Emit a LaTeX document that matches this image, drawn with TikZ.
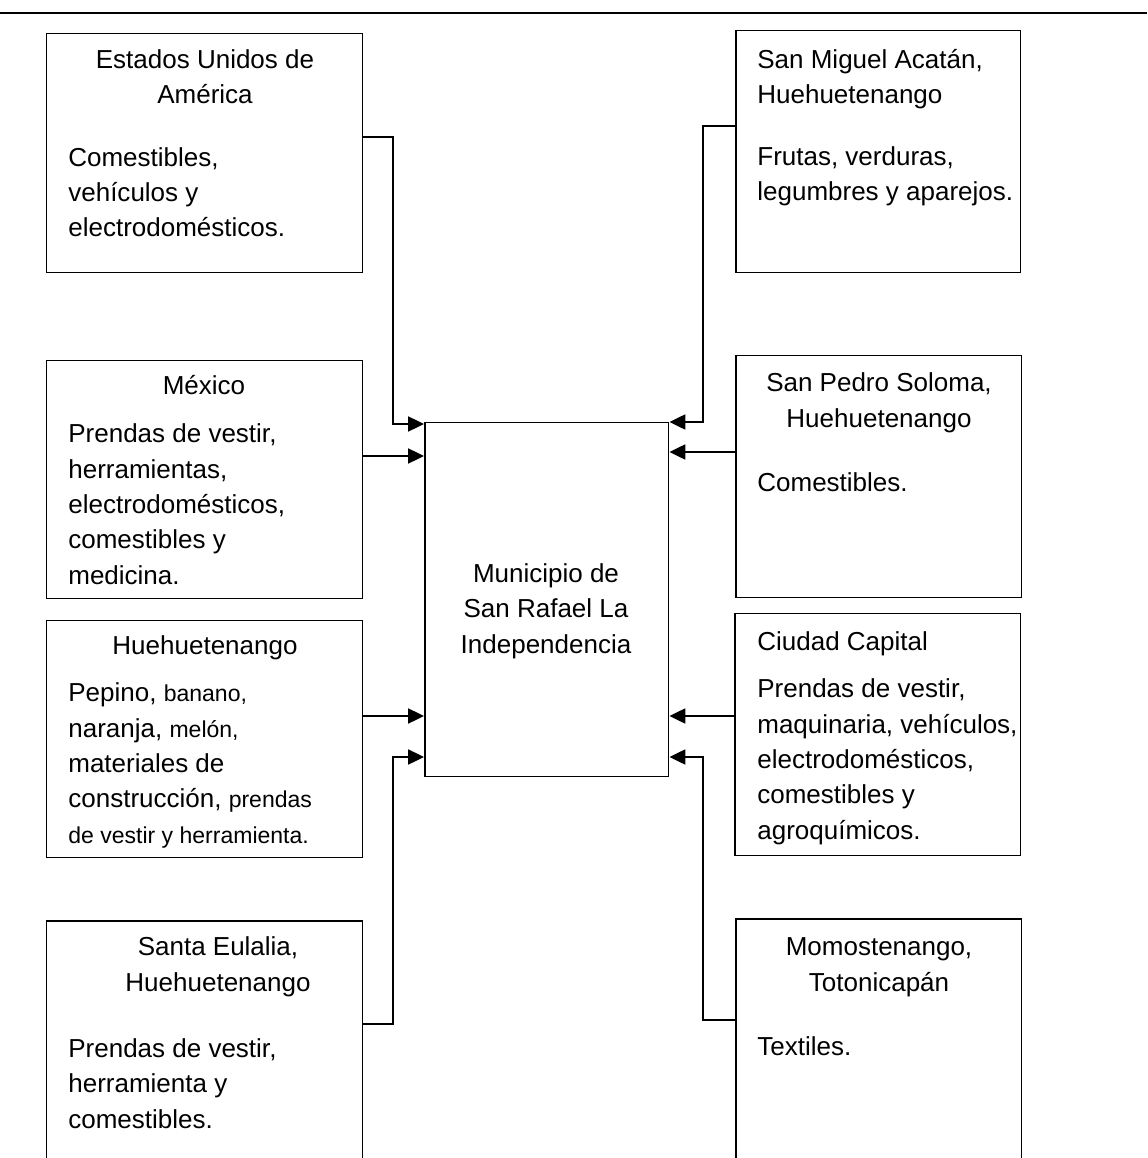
\documentclass[tikz,border=0pt]{standalone}
\usepackage{fontspec}
\setmainfont{Liberation Sans}
\usetikzlibrary{arrows.meta}
\tikzset{
  box/.style={draw, line width=0.85pt, anchor=north west, inner sep=0pt},
  txt/.style={inner sep=0pt, font=\fontsize{14.8}{20.1}\selectfont},
  conn/.style={line width=1.1pt, -{Triangle[length=9pt,width=8.5pt]}}
}
\newcommand{\sm}[1]{{\fontsize{13.1}{20.1}\selectfont #1}}
\begin{document}
\begin{tikzpicture}[x=0.02cm, y=-0.02cm]
                \path[use as bounding box, clip] (0,0) rectangle (1147,1158);
                % Top rule
                \draw[line width=1.4pt] (0,13) -- (1147,13);
                % Centre box
                \node[box, minimum width=4.88cm, minimum height=7.08cm] (mun) at (424,422) {};
                \node[txt, align=center, anchor=base] (munt) at (546,653) {Municipio de\\San Rafael La\\Independencia};
                % Left boxes
                \node[box, minimum width=6.32cm, minimum height=4.78cm] (eu) at (46,33) {};
                \node[box, minimum width=6.32cm, minimum height=4.76cm] (mex) at (46,360) {};
                \node[box, minimum width=6.32cm, minimum height=4.74cm] (hue) at (46,620) {};
                \node[box, minimum width=6.32cm, minimum height=5.4cm] (sta) at (46,920) {};
                % Right boxes
                \node[box, minimum width=5.7cm, minimum height=4.84cm] (smi) at (735,30) {};
                \node[box, minimum width=5.72cm, minimum height=4.84cm] (spe) at (735,355) {};
                \node[box, minimum width=5.72cm, minimum height=4.84cm] (cap) at (734,613) {};
                \node[box, minimum width=5.72cm, minimum height=5.4cm] (mom) at (735,918) {};
                % Texts, left (base = last line)
                \node[txt, align=center, anchor=base] (eut) at (205,104) {Estados Unidos de\\América};
                \node[txt, align=left, anchor=base west] (eub) at (68,237) {Comestibles,\\vehículos y\\electrodomésticos.};
                \node[txt, anchor=base] (mext) at (204,395) {México};
                \node[txt, align=left, anchor=base west] (mexb) at (68,584) {Prendas de vestir,\\herramientas,\\electrodomésticos,\\comestibles y\\medicina.};
                \node[txt, anchor=base] (huet) at (205,654) {Huehuetenango};
                \node[txt, align=left, anchor=base west] (hueb) at (68,843) {Pepino, \sm{banano,}\\naranja, \sm{melón,}\\materiales de\\construcción, \sm{prendas}\\\sm{de vestir y herramienta.}};
                \node[txt, align=center, anchor=base] (stat) at (218,991) {Santa Eulalia,\\Huehuetenango};
                \node[txt, align=left, anchor=base west] (stab) at (68,1128) {Prendas de vestir,\\herramienta y\\comestibles.};
                % Texts, right
                \node[txt, align=left, anchor=base west] (smit) at (757,104) {San Miguel Acatán,\\Huehuetenango};
                \node[txt, align=left, anchor=base west] (smib) at (757,201) {Frutas, verduras,\\legumbres y aparejos.};
                \node[txt, align=center, anchor=base] (spet) at (879,427) {San Pedro Soloma,\\Huehuetenango};
                \node[txt, anchor=base west] (speb) at (757,491) {Comestibles.};
                \node[txt, anchor=base west] (capt) at (757,650) {Ciudad Capital};
                \node[txt, align=left, anchor=base west] (capb) at (757,839) {Prendas de vestir,\\maquinaria, vehículos,\\electrodomésticos,\\comestibles y\\agroquímicos.};
                \node[txt, align=center, anchor=base] (momt) at (879,991) {Momostenango,\\Totonicapán};
                \node[txt, anchor=base west] (momb) at (757,1055) {Textiles.};
                % Arrows into the municipio
                \draw[conn] (eu.east |- 0,137) -| (393,424) -- (mun.west |- 0,424);
                \draw[conn] (mex.east |- 0,456) -- (mun.west |- 0,456);
                \draw[conn] (hue.east |- 0,716) -- (mun.west |- 0,716);
                \draw[conn] (sta.east |- 0,1024) -| (393,757) -- (mun.west |- 0,757);
                \draw[conn] (smi.west |- 0,126) -| (703,422) -- (mun.east |- 0,422);
                \draw[conn] (spe.west |- 0,452) -- (mun.east |- 0,452);
                \draw[conn] (cap.west |- 0,716) -- (mun.east |- 0,716);
                \draw[conn] (mom.west |- 0,1020) -| (703,757) -- (mun.east |- 0,757);
\end{tikzpicture}
\end{document}
